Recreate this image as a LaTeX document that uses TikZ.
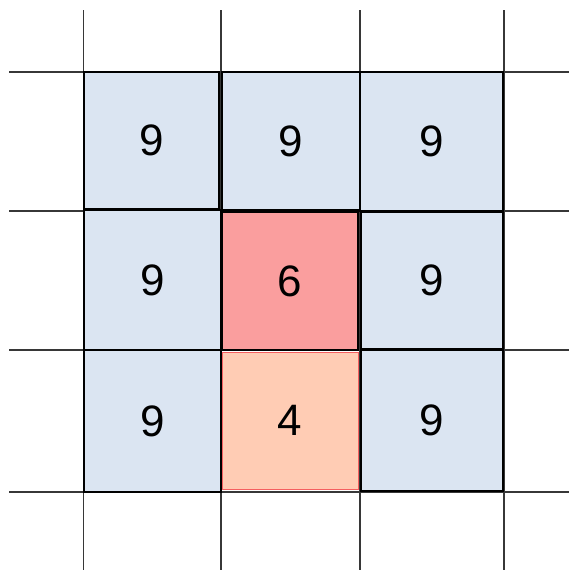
\documentclass[tikz,border=0pt]{standalone}
\usepackage{fontspec}
\setmainfont{Liberation Sans}
\definecolor{tileblue}{RGB}{219,229,242}
\definecolor{tilered}{RGB}{250,158,158}
\definecolor{tileorange}{RGB}{255,204,180}
\definecolor{edgered}{RGB}{245,95,95}
\definecolor{gridgray}{RGB}{55,55,55}
\usetikzlibrary{positioning}

\begin{document}
\begin{tikzpicture}[x=1pt,y=-1pt,
    gridline/.style={gridgray,line width=1.4pt},
    tile/.style={draw=black,line width=1.4pt,fill=tileblue,inner sep=0pt,
      font=\fontsize{44}{44}\selectfont},
    hottile/.style={tile,fill=tilered},
    warmtile/.style={tile,fill=tileorange,draw=edgered,line width=1pt}]
  \useasboundingbox (0,0) rectangle (569,570);
  % background grid
  \foreach \gx in {83.5,221,360,504} {
    \draw[gridline] (\gx,10) -- (\gx,570);
  }
  \foreach \gy in {72,211,350,492} {
    \draw[gridline] (9,\gy) -- (569,\gy);
  }
  % top row
  \node[tile,minimum width=135pt,minimum height=137pt] (t00) at (151.5,140.5) {9};
  \node[tile,minimum width=138pt,minimum height=138pt] (t10) at (291,141) {9};
  \node[tile,minimum width=143pt,minimum height=139pt] (t20) at (431.5,141.5) {9};
  \draw[line width=2.6pt] (t00.south west) -- (t00.south east);
  % middle row
  \node[tile,minimum width=137pt,minimum height=140pt] (t01) at (152.5,280) {9};
  \node[hottile,minimum width=136pt,minimum height=138pt] (t11) at (290,281) {6};
  \node[tile,minimum width=142pt,minimum height=137pt] (t21) at (432,280.5) {9};
  % bottom row
  \node[tile,minimum width=137pt,minimum height=142pt] (t02) at (152.5,421) {9};
  \node[warmtile,minimum width=136pt,minimum height=137pt] (t12) at (290,420.5) {4};
  \node[tile,minimum width=142pt,minimum height=141pt] (t22) at (432,420.5) {9};
\end{tikzpicture}
\end{document}
